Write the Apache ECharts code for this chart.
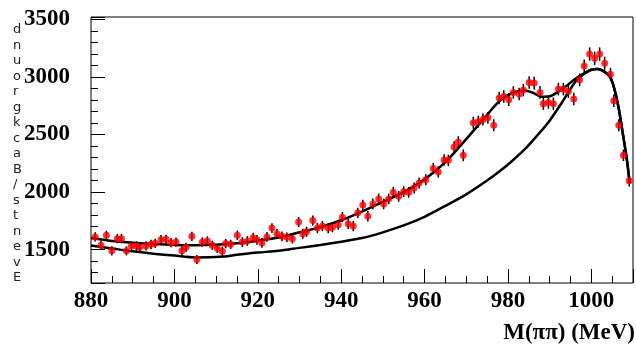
<!DOCTYPE html>
<html>
<head>
<meta charset="utf-8">
<script src="https://cdn.jsdelivr.net/npm/echarts@6/dist/echarts.min.js"></script>
<style>
  html, body { margin: 0; padding: 0; background: #fff; }
  #chart { width: 636px; height: 351px; }
</style>
</head>
<body>
<div id="chart"></div>
<script>
// measured points (M in MeV, events) with their error half-widths
const ptX = [881.0, 882.4, 883.7, 885.0, 886.3, 887.3, 888.5, 889.7, 890.9, 891.7,
  893.2, 894.4, 895.4, 896.8, 898.0, 899.2, 900.4, 901.8, 902.8, 904.2,
  905.4, 906.7, 907.9, 909.1, 910.3, 911.5, 912.3, 913.5, 915.1, 916.3,
  917.5, 918.9, 919.8, 921.0, 922.2, 923.4, 924.6, 925.8, 927.0, 928.3,
  929.8, 930.8, 931.7, 933.2, 934.3, 935.5, 936.9, 937.9, 939.3, 940.3,
  941.7, 942.9, 944.0, 945.2, 946.4, 947.6, 949.0, 950.2, 951.4, 952.5,
  953.8, 955.0, 956.2, 957.5, 958.7, 960.3, 962.1, 963.3, 964.7, 965.7,
  967.1, 968.1, 969.3, 971.7, 972.9, 974.0, 975.2, 976.6, 977.9, 979.0,
  980.2, 981.3, 982.7, 983.7, 985.1, 986.3, 987.7, 988.5, 989.7, 990.9,
  992.1, 993.3, 994.5, 995.8, 997.2, 998.3, 999.6, 1000.8, 1002.0, 1003.2,
  1004.6, 1005.4, 1006.6, 1007.7, 1009.1]
const ptY = [1610, 1537, 1624, 1489, 1595, 1595, 1489, 1532, 1532, 1520,
  1532, 1546, 1555, 1586, 1590, 1560, 1565, 1489, 1520, 1615,
  1414, 1566, 1575, 1537, 1509, 1486, 1552, 1546, 1624, 1566,
  1575, 1604, 1585, 1558, 1610, 1687, 1638, 1615, 1607, 1595,
  1739, 1638, 1655, 1753, 1687, 1704, 1687, 1695, 1716, 1782,
  1724, 1704, 1819, 1888, 1790, 1897, 1940, 1897, 1940, 1998,
  1963, 2003, 1998, 2035, 2078, 2106, 2204, 2175, 2279, 2275,
  2391, 2434, 2319, 2601, 2610, 2629, 2644, 2580, 2816, 2830,
  2802, 2865, 2851, 2885, 2951, 2946, 2865, 2767, 2778, 2767,
  2894, 2894, 2873, 2808, 2974, 3095, 3198, 3161, 3198, 3118,
  3023, 2793, 2580, 2319, 2097]
const ptErr = [40, 40, 40, 40, 40, 40, 40, 40, 40, 40,
  40, 40, 40, 40, 40, 40, 40, 40, 40, 40,
  40, 40, 40, 40, 40, 40, 40, 40, 42, 42,
  42, 42, 42, 42, 42, 42, 42, 42, 42, 42,
  44, 44, 44, 44, 44, 44, 44, 44, 44, 44,
  45, 45, 45, 46, 46, 46, 46, 46, 46, 47,
  47, 47, 47, 48, 48, 48, 49, 49, 50, 50,
  50, 51, 51, 52, 52, 52, 52, 52, 54, 54,
  54, 54, 54, 54, 55, 55, 55, 54, 54, 54,
  55, 55, 55, 55, 56, 57, 58, 58, 58, 57,
  56, 54, 52, 50, 48]

// total fit curve
const fitX = [880, 885, 890, 895, 900, 905, 910, 915, 920, 925,
  930, 935, 940, 945, 950, 955, 960, 965, 970, 975,
  978, 981, 984, 986, 988, 990, 992, 994, 996, 998,
  1000, 1001.5, 1003, 1004.5, 1005.5, 1006.5, 1007.5, 1008.5, 1009.2]
const fitY = [1600, 1575, 1560, 1548, 1540, 1538, 1542, 1555, 1578, 1605,
  1650, 1695, 1755, 1830, 1915, 2000, 2110, 2260, 2460, 2670,
  2790, 2860, 2882, 2862, 2828, 2832, 2870, 2920, 2980, 3025,
  3062, 3068, 3048, 3000, 2900, 2740, 2520, 2290, 2080]

// background curve
const bgX = [880, 885, 890, 895, 900, 905, 912, 915, 920, 925,
  930, 935, 940, 945, 950, 955, 960, 965, 970, 975,
  978, 981, 984, 987, 990, 993, 996, 998, 1000, 1001.5,
  1003, 1004.5, 1005.5, 1006.5, 1007.5, 1008.5, 1009.2]
const bgY = [1535, 1510, 1485, 1465, 1448, 1432, 1440, 1455, 1474, 1490,
  1515, 1540, 1568, 1600, 1650, 1710, 1785, 1880, 1980, 2100,
  2180, 2270, 2370, 2490, 2620, 2780, 2950, 3020, 3062, 3068,
  3048, 3000, 2900, 2740, 2520, 2290, 2080]

const xLabels = [880, 900, 920, 940, 960, 980, 1000]
const yLabels = [1500, 2000, 2500, 3000, 3500]
const yTitle = 'Events/Background'

const tickFont = {
  fontFamily: 'Liberation Serif',
  fontWeight: 'bold',
  fontSize: 23,
  color: '#000'
}

const chart = echarts.init(document.getElementById('chart'))

chart.setOption({
  animation: false,
  backgroundColor: '#fff',
  grid: {
    left: 91,
    right: -2,
    top: 17,
    bottom: 68,
    show: true,
    borderColor: '#000',
    borderWidth: 1
  },
  xAxis: [
    {
      type: 'value',
      position: 'bottom',
      min: 880,
      max: 1010,
      interval: 5,
      axisLine: { show: false },
      axisTick: { inside: true, length: 7, lineStyle: { color: '#000', width: 1 } },
      axisLabel: { show: false },
      splitLine: { show: false }
    },
    {
      type: 'value',
      position: 'bottom',
      min: 880,
      max: 1010,
      interval: 20,
      axisLine: { show: false },
      axisTick: { inside: true, length: 14, lineStyle: { color: '#000', width: 1 } },
      axisLabel: Object.assign({
        margin: 7,
        formatter: v => (xLabels.includes(v) ? String(v) : '')
      }, tickFont),
      splitLine: { show: false }
    }
  ],
  yAxis: [
    {
      type: 'value',
      position: 'left',
      min: 1210,
      max: 3520,
      minInterval: 100,
      maxInterval: 100,
      axisLine: { show: false },
      axisTick: { inside: true, length: 7, lineStyle: { color: '#000', width: 1 } },
      axisLabel: { show: false },
      splitLine: { show: false }
    },
    {
      type: 'value',
      position: 'left',
      min: 1210,
      max: 3520,
      minInterval: 500,
      maxInterval: 500,
      axisLine: { show: false },
      axisTick: { inside: true, length: 14, lineStyle: { color: '#000', width: 1 } },
      axisLabel: Object.assign({
        margin: 21,
        formatter: v => (yLabels.includes(v) ? String(v) : '')
      }, tickFont),
      splitLine: { show: false }
    }
  ],
  graphic: [
    {
      type: 'text',
      left: 13,
      top: 22,
      z: 1,
      style: {
        text: yTitle.split('').reverse().join('\n'),
        fontFamily: 'DejaVu Sans',
        fontSize: 13,
        lineHeight: 15.5,
        fill: '#222',
        align: 'center'
      }
    },
    {
      type: 'text',
      right: 1,
      top: 322,
      style: {
        text: 'M(\u03c0\u03c0) (MeV)',
        fontFamily: 'Liberation Serif',
        fontWeight: 'bold',
        fontSize: 23,
        fill: '#000'
      }
    }
  ],
  series: [
    {
      name: 'background',
      type: 'line',
      data: bgX.map((x, i) => [x, bgY[i]]),
      smooth: 0.3,
      showSymbol: false,
      lineStyle: { color: '#000', width: 2.5 },
      z: 2
    },
    {
      name: 'fit',
      type: 'line',
      data: fitX.map((x, i) => [x, fitY[i]]),
      smooth: 0.3,
      showSymbol: false,
      lineStyle: { color: '#000', width: 2.5 },
      z: 2
    },
    {
      name: 'errors',
      type: 'custom',
      renderItem(params, api) {
        const x = api.value(0)
        const y = api.value(1)
        const e = api.value(2)
        const top = api.coord([x, y + e])
        const bot = api.coord([x, y - e])
        return {
          type: 'line',
          shape: { x1: top[0], y1: top[1], x2: bot[0], y2: bot[1] },
          style: { stroke: '#000', lineWidth: 1.5 }
        }
      },
      encode: { x: 0, y: 1 },
      data: ptX.map((x, i) => [x, ptY[i], ptErr[i]]),
      z: 3
    },
    {
      name: 'data',
      type: 'scatter',
      data: ptX.map((x, i) => [x, ptY[i]]),
      symbol: 'circle',
      symbolSize: 7,
      itemStyle: { color: '#ff0000' },
      z: 4
    }
  ]
})
</script>
</body>
</html>
